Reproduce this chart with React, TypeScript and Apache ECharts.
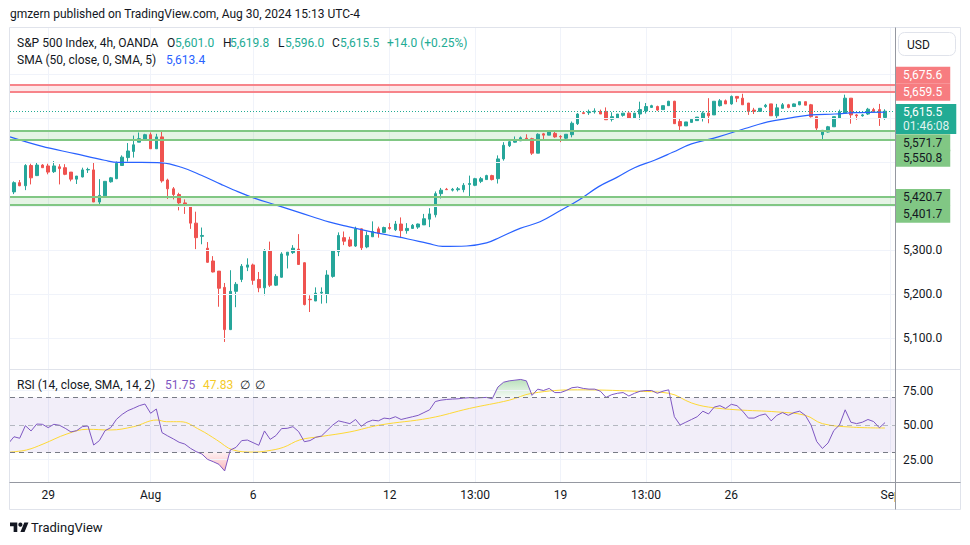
import React, { useEffect, useRef } from 'react';
import * as echarts from 'echarts';

const FONT = 'Roboto, "Liberation Sans", Arial, sans-serif';

// ---- 4h candles (index 0 = first bar at the left edge) ----
const openP = [5424,5432,5453,5446,5492,5469,5493,5491,5478,5489,
 5487,5477,5461,5466,5482,5482,5409,5423,5455,5462,
 5492,5510,5524,5545,5551,5562,5530,5557,5459,5439,
 5426,5407,5401,5361,5331,5304,5275,5252,5215,5119,
 5206,5233,5261,5266,5233,5214,5298,5220,5238,5288,
 5294,5302,5271,5188,5184,5202,5199,5240,5296,5328,
 5323,5309,5348,5307,5330,5348,5340,5351,5346,5359,
 5344,5349,5352,5357,5370,5380,5428,5438,5436,5437,
 5437,5449,5447,5456,5460,5469,5462,5507,5537,5545,
 5548,5554,5553,5520,5564,5561,5565,5558,5554,5562,
 5587,5612,5612,5614,5615,5615,5597,5600,5606,5611,
 5600,5609,5616,5624,5626,5619,5628,5638,5592,5582,
 5590,5594,5600,5611,5607,5628,5639,5632,5649,5645,
 5634,5618,5615,5626,5632,5605,5622,5630,5626,5630,
 5637,5630,5603,5562,5568,5580,5600,5611,5645,5607,
 5605,5609,5619,5619,5601];
const highP = [5437,5456,5459,5495,5496,5498,5495,5496,5502,5495,
 5495,5477,5468,5487,5487,5498,5461,5456,5466,5501,
 5515,5543,5560,5567,5564,5567,5564,5571,5462,5443,
 5430,5415,5401,5387,5351,5318,5286,5252,5225,5254,
 5227,5268,5281,5269,5250,5302,5319,5245,5295,5295,
 5311,5336,5272,5197,5215,5215,5254,5300,5340,5342,
 5330,5353,5349,5342,5365,5353,5353,5361,5366,5374,
 5361,5359,5360,5382,5395,5433,5441,5441,5441,5443,
 5452,5469,5464,5466,5471,5471,5515,5545,5549,5558,
 5558,5563,5555,5565,5566,5572,5572,5561,5563,5592,
 5611,5614,5619,5622,5619,5624,5613,5609,5611,5613,
 5611,5637,5634,5630,5628,5628,5639,5639,5599,5591,
 5597,5602,5615,5645,5638,5643,5642,5651,5649,5655,
 5634,5623,5622,5632,5632,5632,5634,5632,5633,5637,
 5637,5632,5603,5572,5582,5603,5619,5653,5645,5609,
 5609,5623,5623,5632,5619.8];
const lowP = [5422,5427,5445,5436,5449,5468,5487,5472,5475,5449,
 5470,5456,5450,5465,5475,5409,5404,5423,5453,5461,
 5492,5501,5510,5545,5551,5530,5530,5453,5416,5415,
 5390,5382,5348,5302,5313,5271,5249,5171,5091,5118,
 5170,5227,5252,5221,5204,5197,5216,5218,5237,5258,
 5291,5266,5174,5159,5184,5178,5179,5237,5286,5311,
 5307,5307,5299,5304,5330,5328,5339,5346,5343,5327,
 5337,5348,5348,5357,5352,5374,5417,5437,5433,5433,
 5431,5420,5445,5452,5460,5458,5451,5503,5534,5544,
 5548,5550,5516,5520,5552,5561,5555,5545,5552,5556,
 5584,5609,5607,5610,5609,5596,5592,5600,5603,5600,
 5600,5596,5610,5623,5616,5619,5628,5587,5568,5582,
 5590,5594,5592,5588,5607,5626,5632,5630,5636,5630,
 5607,5609,5615,5623,5605,5600,5622,5622,5626,5629,
 5629,5601,5569,5550,5567,5580,5600,5611,5587,5596,
 5603,5607,5613,5582,5596];
const closeP = [5435,5453,5446,5492,5464,5493,5487,5477,5491,5485,
 5472,5461,5468,5482,5483,5409,5424,5456,5464,5497,
 5511,5525,5539,5553,5562,5530,5557,5457,5439,5426,
 5407,5400,5361,5328,5333,5272,5250,5213,5119,5206,
 5222,5263,5266,5231,5214,5298,5220,5240,5291,5295,
 5304,5267,5176,5187,5202,5204,5243,5298,5333,5320,
 5309,5348,5305,5333,5342,5338,5351,5349,5359,5344,
 5349,5356,5359,5371,5382,5428,5436,5437,5438,5439,
 5447,5451,5462,5462,5469,5460,5507,5538,5546,5550,
 5555,5552,5520,5563,5561,5568,5557,5557,5563,5588,
 5609,5610,5614,5616,5609,5596,5603,5609,5611,5600,
 5611,5619,5626,5628,5618,5628,5638,5587,5582,5591,
 5597,5602,5611,5605,5638,5639,5632,5649,5645,5630,
 5615,5615,5622,5629,5605,5623,5630,5624,5632,5637,
 5629,5603,5577,5572,5580,5603,5614,5645,5607,5605,
 5607,5620,5615,5600,5615.5];

// SMA(50): [bar position, value]
const smaPoints = [[0.3,5557],[5.8,5536],[11.7,5519],[16.9,5504],[19.3,5499],[23.4,5499],[26.9,5498],[30.4,5488],[33.9,5470],[37.4,5449],[39.5,5437],[43.2,5418],[47.1,5402],[51.2,5385],[56.3,5364],[59.7,5353],[63.2,5343],[66.7,5334],[70.2,5325],[73.7,5315],[76.3,5308],[80.5,5309],[84,5316],[86.4,5329],[89.9,5349],[93.4,5364],[96.9,5389],[100.3,5414],[103.7,5444],[106.9,5465],[110,5487],[113.5,5504],[116.7,5522],[120,5541],[124.7,5557],[129.4,5576],[133.4,5591],[136.9,5599],[141,5607],[145.2,5609],[148.7,5612],[154,5613.4]];

// RSI(14) per bar
const rsiValues = [36.5,41.5,40.4,49.5,45.7,50.7,50.5,48.1,50.5,49.8,
 47.6,45.0,45.9,48.8,49.3,35.5,38.7,45.9,48.1,54.1,
 57.7,60.4,62.1,64.0,65.2,58.5,61.6,44.5,42.1,39.9,
 37.5,36.2,33.1,30.7,29.0,25.1,23.4,21.5,16.7,31.9,
 33.8,38.7,39.1,37.2,35.3,45.7,39.6,42.3,47.4,47.6,
 48.8,45.2,37.9,38.7,41.1,42.0,46.0,50.0,53.0,52.0,
 51.0,54.0,49.0,52.0,53.5,53.0,55.0,54.5,56.0,54.0,
 55.0,56.0,57.0,59.0,61.0,67.0,68.0,68.5,68.8,69.0,
 69.5,69.8,69.5,69.8,70.0,69.0,77.5,81.0,82.0,82.5,
 83.0,82.0,71.5,76.0,75.0,76.5,73.5,73.5,75.0,77.0,
 77.5,76.5,76.0,76.0,74.5,70.0,72.0,73.0,73.5,71.0,
 73.0,74.5,75.0,75.0,73.0,74.5,75.5,56.0,50.0,52.0,
 54.0,56.0,60.0,58.0,63.0,64.0,62.0,65.0,64.0,60.0,
 55.0,55.0,57.0,58.0,53.0,57.0,59.0,57.0,59.0,60.0,
 57.0,50.0,38.0,33.0,37.0,46.0,50.0,61.0,52.0,51.0,
 52.0,54.0,52.5,48.0,51.75];

// RSI-based MA: [bar position, value]
const rsiMaPoints = [[0.3,30.4],[3.2,31.9],[6.1,36.2],[10.3,43.5],[13.9,46.9],[17.9,46.4],[22,48.8],[26.1,53.6],[27.8,52.4],[30.2,52.4],[33.7,46.4],[36.6,39.2],[39.5,31.9],[43,30.4],[45.4,31.2],[48.3,33.8],[51.2,39.2],[54.8,41.6],[60,45],[65.3,50],[74,55],[81,62],[88,68],[92,73],[100,75.5],[110,74.5],[116,73],[120,66],[123,63],[128,61],[135,59.5],[140,57],[143,51],[148,48.5],[154,47.83]];

const timeTickIndex = [7, 25, 43, 67, 82, 97, 112, 127, 155];
const timeTickLabels = ['29', 'Aug', '6', '12', '13:00', '19', '13:00', '26', 'Sep'];
const priceGridValues = [5100, 5200, 5300, 5400, 5500, 5600, 5700];
const priceLabelValues = [5100, 5200, 5300];
const rsiLabelValues = [25, 50, 75];

const resistanceZone = [5675.6, 5659.5];
const supportZoneHigh = [5571.7, 5550.8];
const supportZoneLow = [5420.7, 5401.7];
const lastPrice = 5615.5;
const countdown = '01:46:08';
const rsiLast = '51.75';
const rsiMaLast = '47.83';
const smaLast = '5,613.4';

const X_MIN = 0.3;
const X_MAX = 155.75;

const UP = '#26a69a';
const DOWN = '#ef5350';
const GRID = '#f0f3fa';
const TXT = '#131722';

const fmtPrice = (v: number) =>
  v.toLocaleString('en-US', { minimumFractionDigits: 1, maximumFractionDigits: 1 });

function zoneLabel(v: number, bg: string, fg: string, dy: number) {
  return {
    show: true,
    position: 'end',
    distance: 1,
    offset: [0, dy],
    formatter: fmtPrice(v),
    backgroundColor: bg,
    color: fg,
    padding: [3, 8, 2, 7],
    fontSize: 12,
    lineHeight: 12,
    fontFamily: FONT,
  };
}

export default function App() {
  const ref = useRef<HTMLDivElement>(null);

  useEffect(() => {
    const el = ref.current;
    if (!el) return;
    echarts.graphic.registerShape(
      'tvlogo',
      echarts.graphic.extendPath('M14 22H7V11H0V4h14v18zM28 22h-8l7.5-18h8L28 22z', {})
    );
    const chart = echarts.init(el, undefined, { renderer: 'svg' });

    const candles = openP.map((o, i) => [i, o, closeP[i], lowP[i], highP[i]]);
    const rsiData = rsiValues.map((v, i) => [i, v]);
    const overbought = rsiData.filter(([i]) => i >= 85 && i <= 92);
    const oversold = rsiData.filter(([i]) => i >= 33 && i <= 39);

    const redLine = '#f7848a';
    const greenLine = '#81c784';

    const text = (x: number, y: number, t: string, fill: string, size = 12, extra: any = {}) => ({
      type: 'text',
      x,
      y,
      z: 30,
      silent: true,
      style: { text: t, fill, fontSize: size, fontFamily: FONT, verticalAlign: 'middle', align: 'left', ...extra },
    });

    const option: any = {
      animation: false,
      backgroundColor: '#ffffff',
      textStyle: { fontFamily: FONT },
      grid: [
        { left: 10, top: 28, width: 885, height: 341, outerBoundsMode: 'none' },
        { left: 10, top: 370, width: 885, height: 112, outerBoundsMode: 'none' },
      ],
      xAxis: [0, 1].map((g) => ({
        type: 'value',
        gridIndex: g,
        min: X_MIN,
        max: X_MAX,
        z: 0,
        axisLine: { show: false },
        axisTick: { show: false, customValues: timeTickIndex },
        axisLabel:
          g === 1
            ? {
                show: true,
                customValues: timeTickIndex,
                formatter: (v: number) => {
                  const k = timeTickIndex.indexOf(Math.round(v));
                  return k >= 0 ? timeTickLabels[k] : '';
                },
                color: TXT,
                fontSize: 12,
                margin: 7,
                fontFamily: FONT,
              }
            : { show: false },
        splitLine: { show: true, lineStyle: { color: GRID, width: 1 } },
      })),
      yAxis: [
        {
          type: 'value',
          gridIndex: 0,
          position: 'right',
          min: 5029.5,
          max: 5804.5,
          z: 3,
          axisLine: { show: false },
          axisTick: { show: false, customValues: priceGridValues },
          axisLabel: {
            customValues: priceLabelValues,
            formatter: (v: number) => fmtPrice(v),
            color: TXT,
            fontSize: 12,
            margin: 8,
            fontFamily: FONT,
          },
          splitLine: { show: true, lineStyle: { color: GRID, width: 1 } },
        },
        {
          type: 'value',
          gridIndex: 1,
          position: 'right',
          min: 8.7,
          max: 89.86,
          z: 3,
          axisLine: { show: false },
          axisTick: { show: false, customValues: rsiLabelValues },
          axisLabel: {
            customValues: rsiLabelValues,
            formatter: (v: number) => v.toFixed(2),
            color: TXT,
            fontSize: 12,
            margin: 8,
            fontFamily: FONT,
          },
          splitLine: { show: true, lineStyle: { color: GRID, width: 1 } },
        },
      ],
      series: [
        {
          name: 'S&P 500',
          type: 'candlestick',
          xAxisIndex: 0,
          yAxisIndex: 0,
          data: candles,
          barWidth: 3,
          itemStyle: {
            color: UP,
            color0: DOWN,
            borderColor: UP,
            borderColor0: DOWN,
            borderWidth: 1,
          },
          markArea: {
            silent: true,
            data: [
              [{ yAxis: resistanceZone[1], itemStyle: { color: 'rgba(242,54,69,0.12)' } }, { yAxis: resistanceZone[0] }],
              [{ yAxis: supportZoneHigh[1], itemStyle: { color: 'rgba(76,175,80,0.14)' } }, { yAxis: supportZoneHigh[0] }],
              [{ yAxis: supportZoneLow[1], itemStyle: { color: 'rgba(76,175,80,0.14)' } }, { yAxis: supportZoneLow[0] }],
            ],
          },
          markLine: {
            silent: true,
            symbol: 'none',
            data: [
              { yAxis: resistanceZone[0], lineStyle: { color: redLine, width: 2, type: 'solid' }, label: zoneLabel(resistanceZone[0], '#f77c80', '#ffffff', -9.5) },
              { yAxis: resistanceZone[1], lineStyle: { color: redLine, width: 2, type: 'solid' }, label: zoneLabel(resistanceZone[1], '#f77c80', '#ffffff', 0.4) },
              {
                yAxis: lastPrice,
                lineStyle: { color: '#22ab94', width: 1, type: [1, 2] },
                label: {
                  show: true,
                  position: 'end',
                  distance: 1,
                  offset: [0, 7.8],
                  formatter: '{a|' + fmtPrice(lastPrice) + '}\n{b|' + countdown + '}',
                  backgroundColor: '#22ab94',
                  padding: [1, 7, 1, 7],
                  rich: {
                    a: { color: '#ffffff', fontSize: 12, lineHeight: 14, fontFamily: FONT },
                    b: { color: 'rgba(255,255,255,0.88)', fontSize: 12, lineHeight: 14, fontFamily: FONT },
                  },
                },
              },
              { yAxis: supportZoneHigh[0], lineStyle: { color: greenLine, width: 2, type: 'solid' }, label: zoneLabel(supportZoneHigh[0], '#81c784', TXT, 12.3) },
              { yAxis: supportZoneHigh[1], lineStyle: { color: greenLine, width: 2, type: 'solid' }, label: zoneLabel(supportZoneHigh[1], '#81c784', TXT, 18.6) },
              { yAxis: supportZoneLow[0], lineStyle: { color: greenLine, width: 2, type: 'solid' }, label: zoneLabel(supportZoneLow[0], '#81c784', TXT, 0.6) },
              { yAxis: supportZoneLow[1], lineStyle: { color: greenLine, width: 2, type: 'solid' }, label: zoneLabel(supportZoneLow[1], '#81c784', TXT, 9) },
            ],
          },
        },
        {
          name: 'SMA',
          type: 'line',
          xAxisIndex: 0,
          yAxisIndex: 0,
          data: smaPoints,
          smooth: 0.4,
          showSymbol: false,
          symbol: 'none',
          lineStyle: { color: '#2962ff', width: 1.2 },
          z: 3,
        },
        {
          name: 'RSI fill high',
          type: 'line',
          xAxisIndex: 1,
          yAxisIndex: 1,
          data: overbought,
          symbol: 'none',
          lineStyle: { opacity: 0 },
          areaStyle: {
            origin: 70,
            color: new echarts.graphic.LinearGradient(0, 0, 0, 1, [
              { offset: 0, color: 'rgba(76,175,80,0.55)' },
              { offset: 1, color: 'rgba(76,175,80,0.05)' },
            ]),
          },
          z: 1,
        },
        {
          name: 'RSI fill low',
          type: 'line',
          xAxisIndex: 1,
          yAxisIndex: 1,
          data: oversold,
          symbol: 'none',
          lineStyle: { opacity: 0 },
          areaStyle: {
            origin: 30,
            color: new echarts.graphic.LinearGradient(0, 0, 0, 1, [
              { offset: 0, color: 'rgba(242,54,69,0.05)' },
              { offset: 1, color: 'rgba(242,54,69,0.5)' },
            ]),
          },
          z: 1,
        },
        {
          name: 'RSI',
          type: 'line',
          xAxisIndex: 1,
          yAxisIndex: 1,
          data: rsiData,
          symbol: 'none',
          lineStyle: { color: '#7e57c2', width: 1 },
          z: 4,
          markArea: {
            silent: true,
            itemStyle: { color: 'rgba(126,87,194,0.1)' },
            data: [[{ yAxis: 30 }, { yAxis: 70 }]],
          },
          markLine: {
            silent: true,
            symbol: 'none',
            label: { show: false },
            data: [
              { yAxis: 70, lineStyle: { color: '#787b86', width: 1, type: [5, 4] } },
              { yAxis: 50, lineStyle: { color: 'rgba(120,123,134,0.5)', width: 1, type: [5, 4] } },
              { yAxis: 30, lineStyle: { color: '#787b86', width: 1, type: [5, 4] } },
            ],
          },
        },
        {
          name: 'RSI MA',
          type: 'line',
          xAxisIndex: 1,
          yAxisIndex: 1,
          data: rsiMaPoints,
          smooth: 0.4,
          symbol: 'none',
          lineStyle: { color: '#fdd835', width: 1 },
          z: 3,
        },
      ],
      graphic: [
        // covers outside the panes
        { type: 'rect', z: 15, silent: true, shape: { x: 0, y: 28, width: 9.5, height: 342 }, style: { fill: '#ffffff' } },
        { type: 'rect', z: 15, silent: true, shape: { x: 896, y: 483, width: 64, height: 26 }, style: { fill: '#ffffff' } },
        // frame
        { type: 'rect', z: 20, silent: true, shape: { x: 9.5, y: 27.5, width: 951, height: 482 }, style: { fill: 'none', stroke: '#e0e3eb', lineWidth: 1 } },
        { type: 'line', z: 20, silent: true, shape: { x1: 9.5, y1: 369.5, x2: 960.5, y2: 369.5 }, style: { stroke: '#e0e3eb', lineWidth: 1 } },
        { type: 'line', z: 20, silent: true, shape: { x1: 9.5, y1: 482.5, x2: 960.5, y2: 482.5 }, style: { stroke: '#9598a1', lineWidth: 1 } },
        { type: 'line', z: 20, silent: true, shape: { x1: 895.5, y1: 27.5, x2: 895.5, y2: 509.5 }, style: { stroke: '#9598a1', lineWidth: 1 } },
        // USD button
        { type: 'rect', z: 20, silent: true, shape: { x: 898.5, y: 32.5, width: 57, height: 23, r: 6 }, style: { fill: '#ffffff', stroke: '#e0e3eb', lineWidth: 1 } },
        text(907, 44.5, 'USD', TXT, 12),
        // header
        text(10, 14, 'gmzern published on TradingView.com, Aug 30, 2024 15:13 UTC-4', TXT, 12),
        // legend row 1
        text(17, 42.5, 'S&P 500 Index, 4h, OANDA', TXT, 12),
        text(167, 42.5, 'O', TXT, 12),
        text(175, 42.5, '5,601.0', '#22ab94', 12),
        text(223, 42.5, 'H', TXT, 12),
        text(230, 42.5, '5,619.8', '#22ab94', 12),
        text(278, 42.5, 'L', TXT, 12),
        text(285, 42.5, '5,596.0', '#22ab94', 12),
        text(332, 42.5, 'C', TXT, 12),
        text(340, 42.5, '5,615.5', '#22ab94', 12),
        text(387, 42.5, '+14.0 (+0.25%)', '#22ab94', 12),
        // legend row 2
        text(17, 59.5, 'SMA (50, close, 0, SMA, 5)', TXT, 12),
        text(166, 59.5, smaLast, '#2962ff', 12),
        // RSI legend
        text(17, 385, 'RSI (14, close, SMA, 14, 2)', TXT, 12),
        text(165, 385, rsiLast, '#7e57c2', 12),
        text(203, 385, rsiMaLast, '#f5cb2a', 12),
        text(240, 385, '\u2205', TXT, 12),
        text(255, 385, '\u2205', TXT, 12),
        // footer logo
        { type: 'tvlogo', z: 30, silent: true, x: 10, y: 520.5, scaleX: 0.52, scaleY: 0.52, style: { fill: TXT } },
        { type: 'circle', z: 30, silent: true, shape: { cx: 10 + 20 * 0.52, cy: 520.5 + 8 * 0.52, r: 4 * 0.52 }, style: { fill: TXT } },
        text(31, 527, 'TradingView', TXT, 13),
      ],
    };

    chart.setOption(option);
    return () => chart.dispose();
  }, []);

  return (
    <div
      ref={ref}
      style={{ position: 'absolute', left: 0, top: 0, width: 970, height: 545, background: '#ffffff' }}
    />
  );
}
